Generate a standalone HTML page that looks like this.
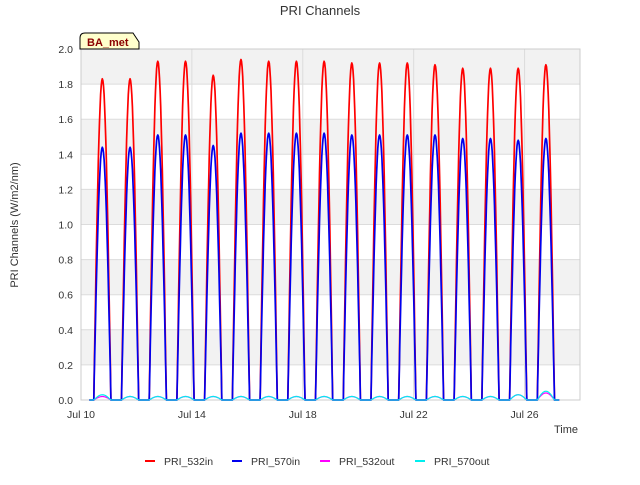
<!DOCTYPE html>
<html><head><meta charset="utf-8"><style>
body{margin:0;background:#fff;font-family:"Liberation Sans","DejaVu Sans",sans-serif;}
</style></head><body>
<svg id="chart" width="640" height="480" xmlns="http://www.w3.org/2000/svg">
<text x="320" y="15" text-anchor="middle" font-size="13" fill="#333">PRI Channels</text>
<g id="plot"></g>
<text x="18" y="225" transform="rotate(-90 18 225)" text-anchor="middle" font-size="11" fill="#333">PRI Channels (W/m2/nm)</text>
<text x="578" y="433" text-anchor="end" font-size="11" fill="#333">Time</text>
<g>
<path d="M80,49 L80,38 Q80,33 85,33 L133,33 L139,42 L139,49 Z" fill="#ffffcc" stroke="#000" stroke-width="1"/>
<text x="87" y="46" font-size="11" font-weight="bold" fill="#8b0000">BA_met</text>
</g>
<g id="legend"></g>
</svg>
<script>
const days = ["Jul 10","Jul 11","Jul 12","Jul 13","Jul 14","Jul 15","Jul 16","Jul 17","Jul 18","Jul 19","Jul 20","Jul 21","Jul 22","Jul 23","Jul 24","Jul 25","Jul 26"];
const peak532in = [1.83,1.83,1.93,1.93,1.85,1.94,1.93,1.93,1.93,1.92,1.92,1.92,1.91,1.89,1.89,1.89,1.91];
const peak570in = [1.44,1.44,1.51,1.51,1.45,1.52,1.52,1.52,1.52,1.51,1.51,1.51,1.51,1.49,1.49,1.48,1.49];
const peak532out = [0.02,0.02,0.02,0.02,0.02,0.02,0.02,0.02,0.02,0.02,0.02,0.02,0.02,0.02,0.02,0.03,0.04];
const peak570out = [0.03,0.02,0.02,0.02,0.02,0.02,0.02,0.02,0.02,0.02,0.02,0.02,0.02,0.02,0.02,0.03,0.05];
const yTicks = [0,0.2,0.4,0.6,0.8,1.0,1.2,1.4,1.6,1.8,2.0];
const xTickDays = [0,4,8,12,16];
const xTickLabels = ["Jul 10","Jul 14","Jul 18","Jul 22","Jul 26"];

const X0=81,X1=580,Y0=400,Y1=49,DMAX=18,VMAX=2.0;
const sx=d=>X0+(X1-X0)*d/DMAX;
const sy=v=>Y0-(Y0-Y1)*v/VMAX;
const NS="http://www.w3.org/2000/svg";
const plot=document.getElementById('plot');
function mk(tag,attrs,parent){const e=document.createElementNS(NS,tag);for(const k in attrs)e.setAttribute(k,attrs[k]);(parent||plot).appendChild(e);return e;}

const bg=mk('rect',{x:X0,y:Y1,width:X1-X0,height:Y0-Y1,fill:'#fff'});


for(let i=0;i<yTicks.length-1;i++){
  if(i%2===1){
    const b=mk('rect',{x:X0,y:sy(yTicks[i+1]),width:X1-X0,height:sy(yTicks[i])-sy(yTicks[i+1]),fill:'#f2f2f2'});
    
    
  }
}
yTicks.forEach(v=>{
  const g=mk('line',{x1:X0,x2:X1,y1:sy(v),y2:sy(v),stroke:'#dcdcdc','stroke-width':1});
  
  
  const t=mk('text',{x:X0-8,y:sy(v)+4,'text-anchor':'end','font-size':10.5,fill:'#333'});
  t.textContent=v.toFixed(1);
  
  
});
xTickDays.forEach((d,i)=>{
  const g=mk('line',{x1:sx(d),x2:sx(d),y1:Y1,y2:Y0,stroke:'#dcdcdc','stroke-width':1});
  
  
  const t=mk('text',{x:sx(d),y:Y0+18,'text-anchor':'middle','font-size':10.5,fill:'#333'});
  t.textContent=xTickLabels[i];
  
  
});
const ax=mk('rect',{x:X0,y:Y1,width:X1-X0,height:Y0-Y1,fill:'none',stroke:'#ccc'});



function series(peaks,color,name,w){
  let pts=[];
  peaks.forEach((p,i)=>{
    const c=i+0.77, hw=0.31;
    pts.push([sx(i+0.3),sy(0)]);
    for(let k=0;k<=30;k++){
      const t=c-hw+2*hw*k/30;
      const s=Math.sin(Math.PI*k/30);
      pts.push([sx(t),sy(p*s)]);
    }
    pts.push([sx(i+1.25),sy(0)]);
  });
  const p=mk('polyline',{points:pts.map(q=>q[0].toFixed(1)+','+q[1].toFixed(1)).join(' '),fill:'none',stroke:color,'stroke-width':w,'stroke-linejoin':'round'});
  
  
}
series(peak532in,'#ff0000','series-pri-532in',1.7);
series(peak570in,'#0000ee','series-pri-570in',1.7);
series(peak532out,'#ff00ff','series-pri-532out',1.2);
series(peak570out,'#00eeee','series-pri-570out',1.2);

const legendNames=["PRI_532in","PRI_570in","PRI_532out","PRI_570out"];
const legendColors=['#ff0000','#0000ee','#ff00ff','#00eeee'];
const legendX=[145,232,320,415];
const lg=document.getElementById('legend');
legendNames.forEach((n,i)=>{
  const g=mk('g',{},lg);
  
  
  mk('line',{x1:legendX[i],x2:legendX[i]+10,y1:461,y2:461,stroke:legendColors[i],'stroke-width':2},g);
  const t=mk('text',{x:legendX[i]+19,y:465,'font-size':10.5,fill:'#333'},g);
  t.textContent=n;
});
</script>
</body></html>
